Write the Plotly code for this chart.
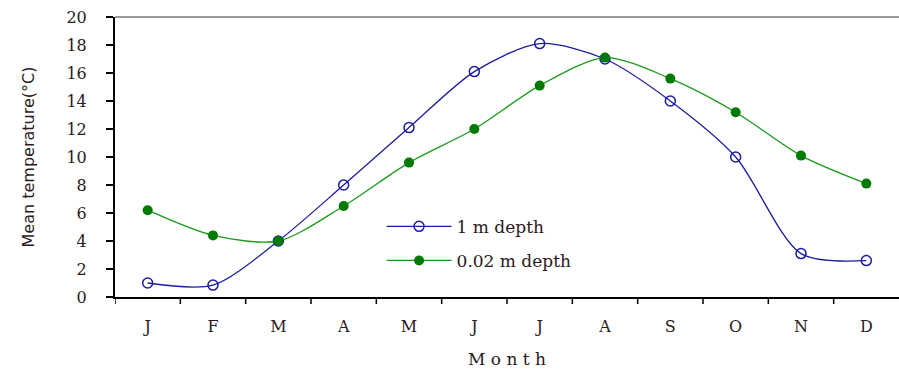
import plotly.graph_objects as go

month_labels = ["J", "F", "M", "A", "M", "J", "J", "A", "S", "O", "N", "D"]
depth_1m = [1.0, 0.85, 4.0, 8.0, 12.1, 16.1, 18.1, 17.0, 14.0, 10.0, 3.1, 2.6]
depth_002m = [6.2, 4.4, 4.0, 6.5, 9.6, 12.0, 15.1, 17.1, 15.6, 13.2, 10.1, 8.1]

x_idx = list(range(len(month_labels)))

fig = go.Figure()
fig.add_trace(go.Scatter(
    x=x_idx, y=depth_1m, name="1 m depth", mode="lines+markers", legendgroup="a",
    line=dict(color="#1c1c9c", width=1.3, shape="spline", smoothing=0.8),
    marker=dict(symbol="circle-open", size=10, color="#1c1c9c", line=dict(width=1.5)),
))
fig.add_trace(go.Scatter(
    x=x_idx, y=depth_002m, name="0.02 m depth", mode="lines+markers", legendgroup="b",
    line=dict(color="#1a9a1a", width=1.3, shape="spline", smoothing=0.8),
    marker=dict(symbol="circle", size=10, color="#007a00"),
))

font_serif = "DejaVu Serif, Liberation Serif, serif"
txt_col = "#2a1a22"

fig.update_layout(
    width=899, height=371,
    margin=dict(l=115, r=0, t=17, b=74, autoexpand=False),
    paper_bgcolor="white", plot_bgcolor="white",
    font=dict(family=font_serif, size=15, color=txt_col),
    showlegend=True,
    legend=dict(x=0.34, y=0.315, xanchor="left", yanchor="top",
                bgcolor="rgba(0,0,0,0)", font=dict(size=17, color=txt_col),
                itemwidth=65, traceorder="grouped", tracegroupgap=9),
    xaxis=dict(
        range=[-0.5, 11.5], tickmode="array", tickvals=x_idx, ticktext=month_labels,
        showgrid=False, zeroline=False, showline=True, linecolor="black", linewidth=2,
        ticks="", tickfont=dict(size=16), ticklabelstandoff=14,
        title=dict(text="M o n t h", font=dict(size=17), standoff=18),
    ),
    yaxis=dict(
        range=[0, 20], dtick=2, showgrid=False, zeroline=False,
        showline=True, linecolor="black", linewidth=2,
        ticks="outside", ticklen=7, tickwidth=1.5, tickcolor="black",
        tickfont=dict(size=16), ticklabelstandoff=16,
        title=dict(text="Mean temperature(°C)", font=dict(family="DejaVu Sans, sans-serif", size=16), standoff=28),
    ),
    shapes=[
        dict(type="line", xref="paper", yref="paper", x0=0, x1=1, y0=1, y1=1,
             line=dict(color="#999999", width=2)),
    ] + [
        dict(type="line", xref="x", yref="paper", x0=i - 0.5, x1=i - 0.5,
             y0=0, y1=-0.025, line=dict(color="black", width=1.5))
        for i in range(len(month_labels))
    ],
)

fig.write_html("out.html", config={"displayModeBar": False},
               post_script="document.body.style.margin='0';document.body.style.overflow='hidden';")
